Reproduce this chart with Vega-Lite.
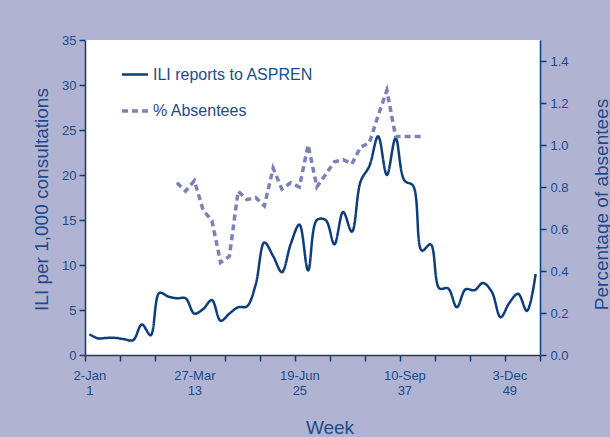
{
  "$schema": "https://vega.github.io/schema/vega-lite/v6.json",
  "width": 455,
  "height": 315,
  "autosize": {"type": "none"},
  "padding": {"left": 85, "top": 40, "right": 70, "bottom": 82},
  "background": "#b0b3d1",
  "config": {
    "view": {"fill": "white", "stroke": null},
    "font": "Liberation Sans",
    "axis": {
      "domainColor": "#0e3d7e",
      "domainWidth": 1.5,
      "tickColor": "#0e3d7e",
      "tickWidth": 1.5,
      "labelColor": "#1d4b8c",
      "titleColor": "#1d4b8c",
      "labelFont": "Liberation Sans",
      "titleFont": "Liberation Sans",
      "labelFontSize": 13,
      "titleFontSize": 19,
      "titleFontWeight": "normal",
      "grid": false
    },
    "legend": {
      "labelLimit": 0
    }
  },
  "datasets": {
    "ili": [
      {"week": 1, "series": "ILI reports to ASPREN", "value": 2.3},
      {"week": 2, "series": "ILI reports to ASPREN", "value": 1.85},
      {"week": 3, "series": "ILI reports to ASPREN", "value": 1.9},
      {"week": 4, "series": "ILI reports to ASPREN", "value": 1.9},
      {"week": 5, "series": "ILI reports to ASPREN", "value": 1.75},
      {"week": 6, "series": "ILI reports to ASPREN", "value": 1.65},
      {"week": 7, "series": "ILI reports to ASPREN", "value": 3.4},
      {"week": 8, "series": "ILI reports to ASPREN", "value": 2.2},
      {"week": 9, "series": "ILI reports to ASPREN", "value": 6.9},
      {"week": 10, "series": "ILI reports to ASPREN", "value": 6.5},
      {"week": 11, "series": "ILI reports to ASPREN", "value": 6.3},
      {"week": 12, "series": "ILI reports to ASPREN", "value": 6.3},
      {"week": 13, "series": "ILI reports to ASPREN", "value": 4.6},
      {"week": 14, "series": "ILI reports to ASPREN", "value": 5.1},
      {"week": 15, "series": "ILI reports to ASPREN", "value": 6.1},
      {"week": 16, "series": "ILI reports to ASPREN", "value": 3.8},
      {"week": 17, "series": "ILI reports to ASPREN", "value": 4.6},
      {"week": 18, "series": "ILI reports to ASPREN", "value": 5.3},
      {"week": 19, "series": "ILI reports to ASPREN", "value": 5.4},
      {"week": 20, "series": "ILI reports to ASPREN", "value": 7.8},
      {"week": 21, "series": "ILI reports to ASPREN", "value": 12.5},
      {"week": 22, "series": "ILI reports to ASPREN", "value": 11.0},
      {"week": 23, "series": "ILI reports to ASPREN", "value": 9.2},
      {"week": 24, "series": "ILI reports to ASPREN", "value": 12.3},
      {"week": 25, "series": "ILI reports to ASPREN", "value": 14.5},
      {"week": 26, "series": "ILI reports to ASPREN", "value": 9.4},
      {"week": 27, "series": "ILI reports to ASPREN", "value": 15.0},
      {"week": 28, "series": "ILI reports to ASPREN", "value": 15.0},
      {"week": 29, "series": "ILI reports to ASPREN", "value": 12.3},
      {"week": 30, "series": "ILI reports to ASPREN", "value": 15.9},
      {"week": 31, "series": "ILI reports to ASPREN", "value": 13.7},
      {"week": 32, "series": "ILI reports to ASPREN", "value": 19.3},
      {"week": 33, "series": "ILI reports to ASPREN", "value": 21.0},
      {"week": 34, "series": "ILI reports to ASPREN", "value": 24.3},
      {"week": 35, "series": "ILI reports to ASPREN", "value": 20.0},
      {"week": 36, "series": "ILI reports to ASPREN", "value": 24.1},
      {"week": 37, "series": "ILI reports to ASPREN", "value": 19.4},
      {"week": 38, "series": "ILI reports to ASPREN", "value": 18.8},
      {"week": 39, "series": "ILI reports to ASPREN", "value": 11.6},
      {"week": 40, "series": "ILI reports to ASPREN", "value": 12.3},
      {"week": 41, "series": "ILI reports to ASPREN", "value": 7.4},
      {"week": 42, "series": "ILI reports to ASPREN", "value": 7.4},
      {"week": 43, "series": "ILI reports to ASPREN", "value": 5.3},
      {"week": 44, "series": "ILI reports to ASPREN", "value": 7.3},
      {"week": 45, "series": "ILI reports to ASPREN", "value": 7.2},
      {"week": 46, "series": "ILI reports to ASPREN", "value": 8.0},
      {"week": 47, "series": "ILI reports to ASPREN", "value": 7.0},
      {"week": 48, "series": "ILI reports to ASPREN", "value": 4.2},
      {"week": 49, "series": "ILI reports to ASPREN", "value": 5.8},
      {"week": 50, "series": "ILI reports to ASPREN", "value": 6.8},
      {"week": 51, "series": "ILI reports to ASPREN", "value": 4.9},
      {"week": 52, "series": "ILI reports to ASPREN", "value": 9.0}
    ],
    "absent": [
      {"week": 11, "series": "% Absentees", "value": 0.82},
      {"week": 12, "series": "% Absentees", "value": 0.78},
      {"week": 13, "series": "% Absentees", "value": 0.83},
      {"week": 14, "series": "% Absentees", "value": 0.69},
      {"week": 15, "series": "% Absentees", "value": 0.64},
      {"week": 16, "series": "% Absentees", "value": 0.44},
      {"week": 17, "series": "% Absentees", "value": 0.47},
      {"week": 18, "series": "% Absentees", "value": 0.78},
      {"week": 19, "series": "% Absentees", "value": 0.74},
      {"week": 20, "series": "% Absentees", "value": 0.75},
      {"week": 21, "series": "% Absentees", "value": 0.71},
      {"week": 22, "series": "% Absentees", "value": 0.89},
      {"week": 23, "series": "% Absentees", "value": 0.79},
      {"week": 24, "series": "% Absentees", "value": 0.82},
      {"week": 25, "series": "% Absentees", "value": 0.80},
      {"week": 26, "series": "% Absentees", "value": 1.0},
      {"week": 27, "series": "% Absentees", "value": 0.80},
      {"week": 28, "series": "% Absentees", "value": 0.86},
      {"week": 29, "series": "% Absentees", "value": 0.92},
      {"week": 30, "series": "% Absentees", "value": 0.93},
      {"week": 31, "series": "% Absentees", "value": 0.91},
      {"week": 32, "series": "% Absentees", "value": 0.99},
      {"week": 33, "series": "% Absentees", "value": 1.01},
      {"week": 34, "series": "% Absentees", "value": 1.14},
      {"week": 35, "series": "% Absentees", "value": 1.26},
      {"week": 36, "series": "% Absentees", "value": 1.04},
      {"week": 37, "series": "% Absentees", "value": 1.04},
      {"week": 38, "series": "% Absentees", "value": 1.04},
      {"week": 39, "series": "% Absentees", "value": 1.04}
    ]
  },
  "encoding": {
    "x": {
      "field": "week",
      "type": "quantitative",
      "scale": {"domain": [0.5, 52.5], "nice": false, "zero": false},
      "axis": {
        "orient": "bottom",
        "title": "Week",
        "values": [0.5, 4.5, 8.5, 12.5, 16.5, 20.5, 24.5, 28.5, 32.5, 36.5, 40.5, 44.5, 48.5, 52.5, 1, 13, 25, 37, 49],
        "labelExpr": "datum.value == 1 ? ['2-Jan', '1'] : datum.value == 13 ? ['27-Mar', '13'] : datum.value == 25 ? ['19-Jun', '25'] : datum.value == 37 ? ['10-Sep', '37'] : datum.value == 49 ? ['3-Dec', '49'] : ''",
        "tickOpacity": {"condition": {"test": "datum.value % 1 == 0", "value": 0}, "value": 1},
        "tickSize": 6,
        "labelPadding": 8,
        "labelLineHeight": 15,
        "labelOverlap": false,
        "labelFlush": false,
        "labelBound": false,
        "titleFontSize": 19,
        "titleX": 244.5,
        "titleY": 78,
        "titleAlign": "center",
        "titleBaseline": "alphabetic",
        "titleAnchor": null
      }
    },
    "color": {
      "field": "series",
      "type": "nominal",
      "scale": {"domain": ["ILI reports to ASPREN", "% Absentees"], "range": ["#0e3d7e", "#7d82b6"]},
      "legend": {
        "title": null,
        "orient": "none",
        "legendX": 35,
        "legendY": 20,
        "symbolType": "stroke",
        "symbolSize": 676,
        "labelFontSize": 16,
        "labelColor": "#1d4b8c",
        "labelFont": "Liberation Sans",
        "labelOffset": 3,
        "labelLimit": 0,
        "rowPadding": 13,
        "padding": 0
      }
    },
    "strokeDash": {
      "field": "series",
      "type": "nominal",
      "scale": {"domain": ["ILI reports to ASPREN", "% Absentees"], "range": [[1, 0], [6, 4]]},
      "legend": {
        "title": null,
        "orient": "none",
        "legendX": 35,
        "legendY": 20,
        "symbolType": "stroke",
        "symbolSize": 676,
        "labelFontSize": 16,
        "labelColor": "#1d4b8c",
        "labelFont": "Liberation Sans",
        "labelOffset": 3,
        "labelLimit": 0,
        "rowPadding": 13,
        "padding": 0
      }
    },
    "strokeWidth": {
      "field": "series",
      "type": "nominal",
      "scale": {"domain": ["ILI reports to ASPREN", "% Absentees"], "range": [2.5, 3.5]},
      "legend": {
        "title": null,
        "orient": "none",
        "legendX": 35,
        "legendY": 20,
        "symbolType": "stroke",
        "symbolSize": 676,
        "labelFontSize": 16,
        "labelColor": "#1d4b8c",
        "labelFont": "Liberation Sans",
        "labelOffset": 3,
        "labelLimit": 0,
        "rowPadding": 13,
        "padding": 0
      }
    }
  },
  "layer": [
    {
      "data": {"name": "ili"},
      "mark": {"type": "line", "interpolate": "catmull-rom"},
      "encoding": {
        "y": {
          "field": "value",
          "type": "quantitative",
          "scale": {"domain": [0, 35], "nice": false},
          "axis": {
            "orient": "left",
            "title": "ILI per 1,000 consultations",
            "values": [0, 5, 10, 15, 20, 25, 30, 35],
            "tickSize": 6,
            "labelPadding": 3,
            "titleAngle": 270,
            "titleX": -44,
            "titleY": 159,
            "titleAlign": "center",
            "titleBaseline": "middle",
            "titleAnchor": null
          }
        }
      }
    },
    {
      "data": {"name": "absent"},
      "mark": {"type": "line", "interpolate": "linear", "strokeCap": "butt"},
      "encoding": {
        "y": {
          "field": "value",
          "type": "quantitative",
          "scale": {"domain": [0, 1.5], "nice": false},
          "axis": {
            "orient": "right",
            "title": "Percentage of absentees",
            "values": [0, 0.2, 0.4, 0.6, 0.8, 1.0, 1.2, 1.4],
            "format": ".1f",
            "tickSize": 6,
            "labelPadding": 4,
            "titleAngle": 270,
            "titleX": 61,
            "titleY": 164,
            "titleAlign": "center",
            "titleBaseline": "middle",
            "titleAnchor": null
          }
        }
      }
    }
  ],
  "resolve": {"scale": {"y": "independent"}}
}
